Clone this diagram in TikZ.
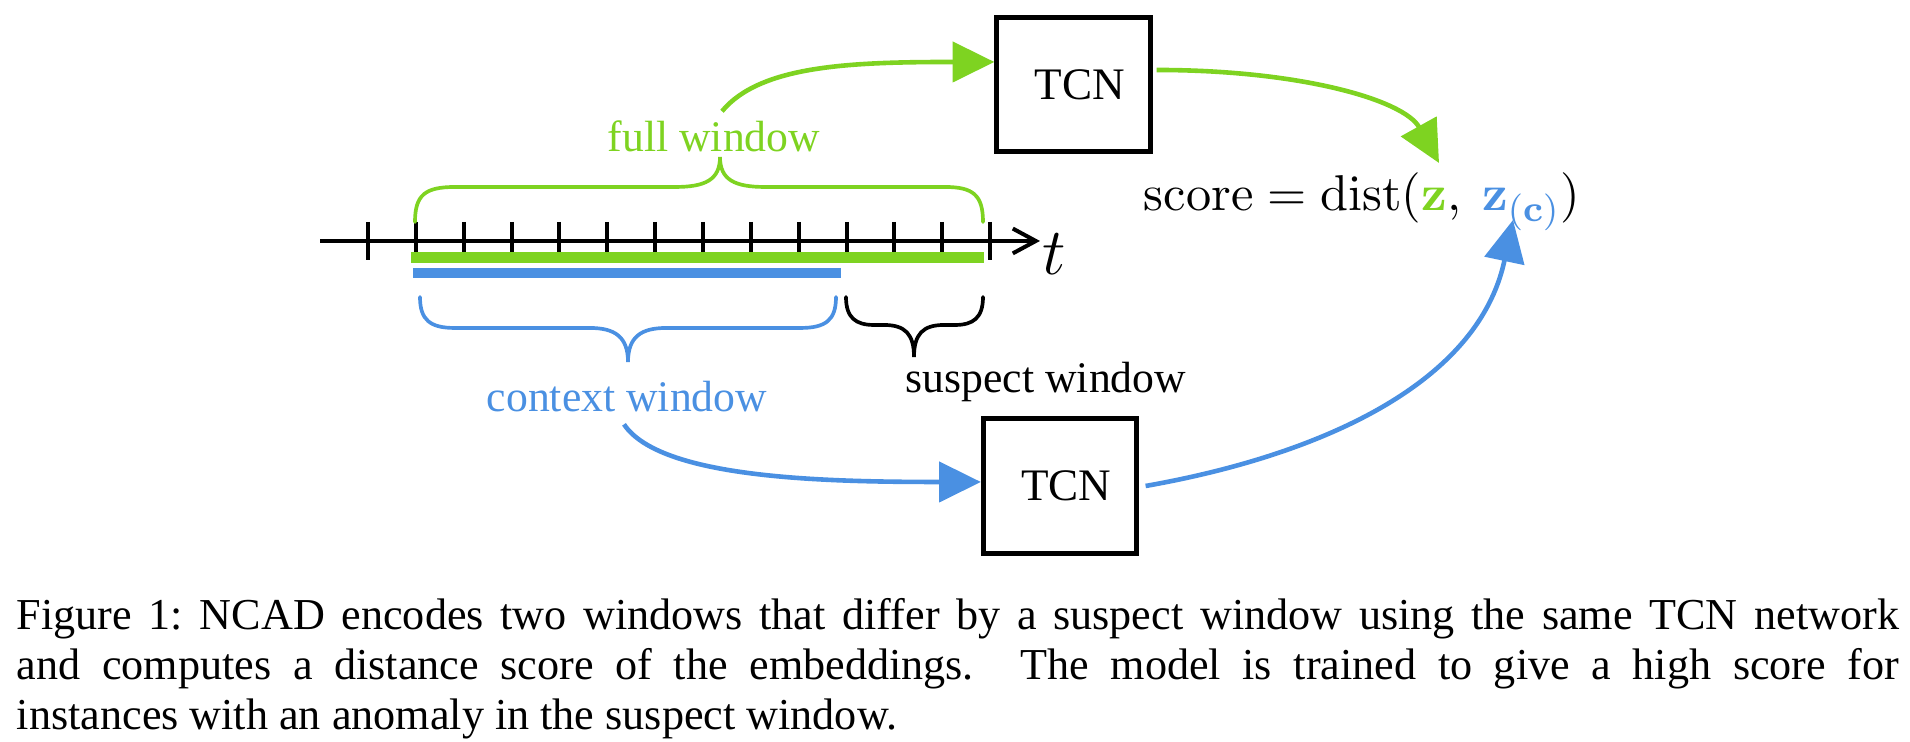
\documentclass[tikz,border=0pt]{standalone}
\usepackage[no-math]{fontspec}
\setmainfont{Liberation Serif}
\usetikzlibrary{arrows.meta,calc}
\definecolor{fwgreen}{RGB}{126,211,33}
\definecolor{cwblue}{RGB}{74,144,226}
\begin{document}
\begin{tikzpicture}[x=0.2174pt,y=0.2174pt,
  lbl/.style={font=\fontsize{9.5}{11}\selectfont, inner sep=0pt},
  tcnbox/.style={draw=black, line width=1.1pt, minimum width=33.3pt, minimum height=29.3pt, inner sep=0pt, font=\fontsize{9.8}{11}\selectfont},
  tickmark/.style={line width=0.87pt},
  conn/.style={line width=1pt, -{Triangle[length=9.1pt,width=8.7pt]}},
  brc/.style={line width=0.8pt, line cap=round}
]
\useasboundingbox (0,0) rectangle (1910,742);

% time axis
\coordinate (ax0) at (320,501);
\coordinate (ax1) at (1040,501);
\draw[line width=0.87pt, -{Straight Barb[length=5pt,width=5.4pt]}] (ax0) -- (ax1);
\foreach \k in {0,...,13} \draw[tickmark] (368+47.85*\k,520) -- (368+47.85*\k,482);
\node[inner sep=0pt, anchor=base west, font=\fontsize{15}{17}\selectfont] (tlabel) at (1042,467) {$t$};

% window bars
\draw[fwgreen, line width=2.4pt] (411,484) -- (984,484);
\draw[cwblue, line width=2pt] (413,469) -- (841,469);

% full window brace
\draw[brc, fwgreen] (415,520) .. controls (415,547) and (425,555) .. (455,555) -- (675,555)
  .. controls (705,555) and (720,562) .. (720,585)
  .. controls (720,562) and (735,555) .. (765,555) -- (945,555)
  .. controls (973,555) and (983,547) .. (983,520);
% context window brace
\draw[brc, cwblue] (420,445) .. controls (420,422) and (430,414) .. (455,414) -- (590,414)
  .. controls (615,414) and (628,405) .. (628,380)
  .. controls (628,405) and (641,414) .. (666,414) -- (800,414)
  .. controls (826,414) and (836,422) .. (836,445);
% suspect window brace
\draw[brc, black] (846,445) .. controls (846,424) and (856,417) .. (874,417) -- (884,417)
  .. controls (905,417) and (914,408) .. (914,385)
  .. controls (914,408) and (923,417) .. (944,417) -- (955,417)
  .. controls (973,417) and (983,424) .. (983,445);

% labels
\node[lbl, text=fwgreen, anchor=base] (fullwin) at (714,590) {full window};
\node[lbl, text=cwblue, anchor=base] (ctxwin) at (627,330) {context window};
\node[lbl, anchor=base] (suswin) at (1046,349) {suspect window};

% TCN boxes
\node[tcnbox] (tcn1) at (1073.5,657.5) {\hspace*{2.8pt}TCN};
\node[tcnbox] (tcn2) at (1060,256) {\hspace*{2.8pt}TCN};

% score
\node[inner sep=0pt, anchor=base west, font=\fontsize{10.8}{13}\selectfont] (score) at (1143,531)
  {$\mathrm{score} = \mathrm{dist}({\color{fwgreen}\mathbf{z}},\ {\color{cwblue}\mathbf{z}_{(\mathbf{c})}})$};
\coordinate (g2e) at (1439,579);
\coordinate (b2e) at (1513,522);

% connectors
\draw[conn, fwgreen] ($(fullwin.north)+(8,9)$) .. controls +(38,46) and +(-144,0) .. ($(tcn1.west)+(0,22.5)$);
\draw[conn, fwgreen] ($(tcn1.east)+(4,14.5)$) .. controls +(144,0) and +(-35,63) .. (g2e);
\draw[conn, cwblue] ($(ctxwin.south)+(-3,-11)$) .. controls +(36,-54) and +(-159,0) .. ($(tcn2.west)+(0,4)$);
\draw[conn, cwblue] ($(tcn2.east)+(6.5,0)$) .. controls +(170,30) and +(-35,-166) .. (b2e);

% caption
\node[anchor=base west, inner sep=0pt, text width=409.2pt, align=justify, font=\fontsize{9.6}{10.87}\selectfont] (caption) at (16,112)
  {\sfcode`\:=1000 \hyphenpenalty=10000 Figure 1: NCAD encodes two windows that differ by a suspect window using the same TCN network\linebreak and computes a distance score of the embeddings. The model is trained to give a high score for\linebreak instances with an anomaly in the suspect window.};
\end{tikzpicture}
\end{document}
